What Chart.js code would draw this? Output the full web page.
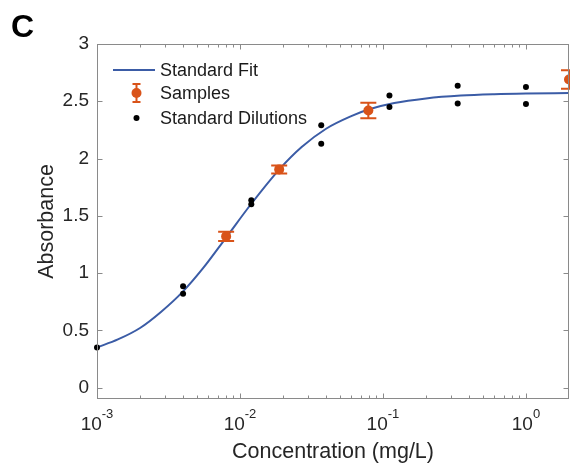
<!DOCTYPE html>
<html><head><meta charset="utf-8">
<script src="https://cdn.jsdelivr.net/npm/chart.js@4.4.1/dist/chart.umd.min.js"></script>
<style>html,body{margin:0;padding:0;background:#fff;}#wrap{width:570px;height:468px;}</style>
</head><body><div id="wrap"><canvas id="c" width="570" height="468"></canvas></div>
<script>
// ---- data ----
const fitX = [0.001, 0.0014, 0.002, 0.0028, 0.004, 0.0055, 0.008, 0.012, 0.019, 0.027, 0.04, 0.06, 0.08, 0.12, 0.2, 0.35, 0.6, 1, 2];
const fitY = [0.35, 0.42, 0.52, 0.66, 0.84, 1.04, 1.31, 1.605, 1.91, 2.10, 2.26, 2.37, 2.43, 2.485, 2.525, 2.55, 2.562, 2.568, 2.572];
const sampleX = [0.008, 0.0188, 0.079, 2.0];
const sampleY = [1.32, 1.905, 2.42, 2.69];
const sampleErr = [0.041, 0.035, 0.068, 0.08];
const dilutionX = [0.001, 0.004, 0.004, 0.012, 0.012, 0.037, 0.037, 0.111, 0.111, 0.333, 0.333, 1, 1];
const dilutionY = [0.35, 0.885, 0.82, 1.635, 1.60, 2.29, 2.13, 2.55, 2.45, 2.635, 2.48, 2.625, 2.475];
const yTickValues = [0, 0.5, 1, 1.5, 2, 2.5, 3];
const xTickExponents = [-3, -2, -1, 0];
const seriesNames = ['Standard Fit', 'Samples', 'Standard Dilutions'];
const panelLabel = 'C';
const xTitle = 'Concentration (mg/L)';
const yTitle = 'Absorbance';

const FONT = "'Liberation Sans', Arial, Helvetica, sans-serif";
const TXT = '#262626';
const BLUE = '#3B5CA6';
const ORANGE = '#D95319';
const AXIS = '#8a8a8a';

const fitData = fitX.map((x, i) => ({x, y: fitY[i]}));
const sampleData = sampleX.map((x, i) => ({x, y: sampleY[i]}));
const dilutionData = dilutionX.map((x, i) => ({x, y: dilutionY[i]}));

const decor = {
  id: 'decor',
  beforeDatasetDraw(chart, args) {
    if (args.index !== 1) return;
    const {ctx, scales: {x, y}} = chart;
    ctx.save();
    ctx.strokeStyle = ORANGE;
    ctx.lineWidth = 2;
    sampleX.forEach((sx, i) => {
      const px = x.getPixelForValue(sx);
      const top = y.getPixelForValue(sampleY[i] + sampleErr[i]);
      const bot = y.getPixelForValue(sampleY[i] - sampleErr[i]);
      ctx.beginPath();
      ctx.moveTo(px, top); ctx.lineTo(px, bot);
      ctx.moveTo(px - 8, top); ctx.lineTo(px + 8, top);
      ctx.moveTo(px - 8, bot); ctx.lineTo(px + 8, bot);
      ctx.stroke();
    });
    ctx.restore();
  },
  afterDraw(chart) {
    const {ctx, chartArea: a, scales: {x, y}} = chart;
    ctx.save();
    const L = Math.round(a.left) + 0.5, R = Math.round(a.right) - 0.5;
    const T = Math.round(a.top) + 0.5, B = Math.round(a.bottom) - 0.5;
    ctx.strokeStyle = AXIS;
    ctx.lineWidth = 1;
    ctx.strokeRect(L, T, R - L, B - T);
    ctx.beginPath();
    // y ticks inward both sides
    yTickValues.forEach(v => {
      const py = Math.round(y.getPixelForValue(v)) + 0.5;
      ctx.moveTo(L, py); ctx.lineTo(L + 5, py);
      ctx.moveTo(R, py); ctx.lineTo(R - 5, py);
    });
    // x ticks (major + minor) inward top and bottom
    xTickExponents.forEach(e => {
      for (let m = 1; m <= 9; m++) {
        const v = m * Math.pow(10, e);
        if (v < x.min || v >= x.max) continue;
        const px = Math.round(x.getPixelForValue(v)) + 0.5;
        const len = m === 1 ? 5 : 3;
        ctx.moveTo(px, B); ctx.lineTo(px, B - len);
        ctx.moveTo(px, T); ctx.lineTo(px, T + len);
      }
    });
    ctx.stroke();

    // x tick labels 10^e
    ctx.fillStyle = TXT;
    ctx.textBaseline = 'alphabetic';
    ctx.textAlign = 'left';
    xTickExponents.forEach(e => {
      const px = x.getPixelForValue(Math.pow(10, e));
      ctx.font = '19px ' + FONT;
      const w1 = ctx.measureText('10').width;
      ctx.font = '13px ' + FONT;
      const es = String(e);
      const w2 = ctx.measureText(es).width;
      const start = px - (w1 + w2) / 2;
      ctx.font = '19px ' + FONT;
      ctx.fillText('10', start, 430);
      ctx.font = '13px ' + FONT;
      ctx.fillText(es, start + w1, 418);
    });

    // legend
    const lx = 113, tx = 160, rows = [70, 93, 118];
    ctx.font = '18px ' + FONT;
    ctx.textBaseline = 'middle';
    ctx.fillStyle = '#1a1a1a';
    seriesNames.forEach((n, i) => ctx.fillText(n, tx, rows[i] + 1));
    ctx.strokeStyle = BLUE; ctx.lineWidth = 2;
    ctx.beginPath(); ctx.moveTo(lx, rows[0]); ctx.lineTo(155, rows[0]); ctx.stroke();
    const cx = 136.5;
    ctx.strokeStyle = ORANGE; ctx.lineWidth = 2;
    ctx.beginPath();
    ctx.moveTo(cx, rows[1] - 9); ctx.lineTo(cx, rows[1] + 9);
    ctx.moveTo(cx - 4, rows[1] - 9); ctx.lineTo(cx + 4, rows[1] - 9);
    ctx.moveTo(cx - 4, rows[1] + 9); ctx.lineTo(cx + 4, rows[1] + 9);
    ctx.stroke();
    ctx.fillStyle = ORANGE;
    ctx.beginPath(); ctx.arc(cx, rows[1], 5, 0, Math.PI * 2); ctx.fill();
    ctx.fillStyle = '#000';
    ctx.beginPath(); ctx.arc(cx, rows[2], 3, 0, Math.PI * 2); ctx.fill();

    // panel label
    ctx.font = 'bold 32px ' + FONT;
    ctx.textBaseline = 'alphabetic';
    ctx.fillStyle = '#000';
    ctx.fillText(panelLabel, 11, 37);
    ctx.restore();
  }
};

new Chart(document.getElementById('c'), {
  type: 'scatter',
  data: {
    datasets: [
      {label: seriesNames[0], type: 'line', data: fitData, borderColor: BLUE, borderWidth: 2,
       pointRadius: 0, fill: false, cubicInterpolationMode: 'monotone', order: 3, clip: false},
      {label: seriesNames[1], data: sampleData, backgroundColor: ORANGE, borderWidth: 0,
       pointRadius: 5, order: 2, clip: false},
      {label: seriesNames[2], data: dilutionData, backgroundColor: '#000', borderWidth: 0,
       pointRadius: 3, order: 1, clip: false}
    ]
  },
  options: {
    responsive: false,
    animation: false,
    devicePixelRatio: 1,
    layout: {autoPadding: false, padding: {top: 44, right: 1, left: 0, bottom: 0}},
    plugins: {legend: {display: false}, tooltip: {enabled: false}},
    scales: {
      x: {
        type: 'logarithmic', min: 0.001, max: 2,
        grid: {display: false, drawTicks: false}, border: {display: false},
        ticks: {display: false},
        title: {display: true, text: xTitle, color: TXT, font: {family: FONT, size: 21.5},
                padding: {top: 0, bottom: 3}},
        afterFit(s) { s.height = 69; }
      },
      y: {
        type: 'linear', min: -0.1, max: 3,
        grid: {display: false, drawTicks: false}, border: {display: false},
        afterBuildTicks(s) { s.ticks = yTickValues.map(v => ({value: v})); },
        ticks: {color: TXT, font: {family: FONT, size: 19}, padding: 8,
                callback: v => String(v)},
        title: {display: true, text: yTitle, color: TXT, font: {family: FONT, size: 21.5},
                padding: {top: 34, bottom: 0}},
        afterFit(s) { s.width = 97; }
      }
    }
  },
  plugins: [decor]
});
</script></body></html>
